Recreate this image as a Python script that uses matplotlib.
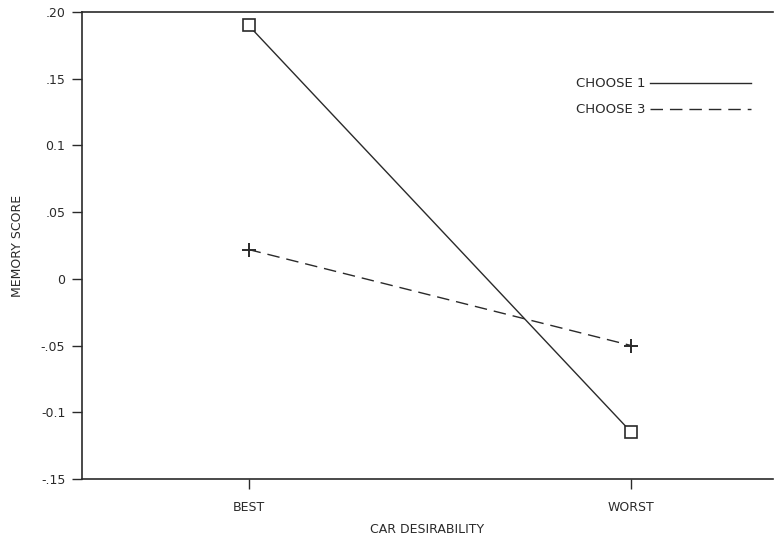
import matplotlib
matplotlib.use("Agg")
import matplotlib.pyplot as plt

# --- données ---
categories = ["BEST", "WORST"]
choose1 = [0.19, -0.115]
choose3 = [0.022, -0.050]
yticks = [0.20, 0.15, 0.10, 0.05, 0.0, -0.05, -0.10, -0.15]
ytick_labels = [".20", ".15", "0.1", ".05", "0", "-.05", "-0.1", "-.15"]

encre = "#2a2a2a"
plt.rcParams['font.family'] = ['DejaVu Sans']

fig = plt.figure(figsize=(7.79, 5.41), dpi=100)
ax = fig.add_axes([0.1053, 0.1146, 0.8870, 0.8632])

x = list(range(len(categories)))

# Choose 1 : trait plein, carrés ouverts
ax.plot(x, choose1, '-', color=encre, lw=1.0, marker='s', ms=8,
        mfc='white', mec=encre, mew=1.2, label="CHOOSE 1")
# Choose 3 : tirets, croix
ax.plot(x, choose3, '--', color=encre, lw=1.0, dashes=(9, 5), marker='+',
        ms=10, mec=encre, mew=1.4, label="CHOOSE 3")

ax.set_xlim(-0.435, 1.37)
ax.set_ylim(-0.15, 0.20)
ax.set_xticks(x)
ax.set_xticklabels(categories)
ax.set_yticks(yticks)
ax.set_yticklabels(ytick_labels)

ax.tick_params(axis='both', colors=encre, labelsize=9, length=7, width=1.0, direction='out')
ax.tick_params(axis='x', pad=9)
ax.tick_params(axis='y', pad=5)

for cote in ['left', 'top', 'bottom']:
    ax.spines[cote].set_color(encre)
    ax.spines[cote].set_linewidth(1.2)
ax.spines['right'].set_visible(False)

ax.set_xlabel("CAR DESIRABILITY", fontsize=9, color=encre, labelpad=6)
ax.set_ylabel("MEMORY SCORE", fontsize=9, color=encre, labelpad=12)

leg = ax.legend(loc='upper right', bbox_to_anchor=(0.985, 0.886), frameon=False,
                markerfirst=False, handlelength=7.6, fontsize=9.5,
                labelspacing=1.0, handletextpad=0.4)
for h in leg.legend_handles:
    h.set_marker('')
for t in leg.get_texts():
    t.set_color(encre)

fig.savefig("out.png", dpi=100)
